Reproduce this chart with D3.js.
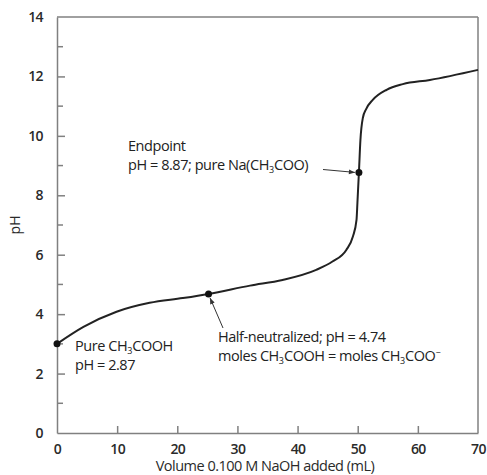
<!DOCTYPE html>
<html><head><meta charset="utf-8">
<script src="https://cdn.jsdelivr.net/npm/d3@7"></script>
<style>
body{margin:0;background:#fff;}
text{font-family:"Open Sans",sans-serif;}
</style></head>
<body><svg id="c" width="487" height="475"></svg>
<script>
const volume = [0, 4.4, 9.9, 15.4, 20.9, 25.2, 32.1, 37.5, 43.1, 45.8, 48.1, 49.2, 49.8, 49.95, 50.2, 50.45, 50.85, 51.4, 52.5, 54.8, 57.5, 62.0, 70];
const pH     = [3.0, 3.57, 4.08, 4.38, 4.54, 4.68, 4.96, 5.15, 5.49, 5.77, 6.16, 6.61, 7.17, 7.74, 8.77, 9.86, 10.6, 10.9, 11.21, 11.55, 11.74, 11.88, 12.22];
const markV  = [0, 25.2, 50.2];
const markP  = [3.0, 4.68, 8.77];
const xTicks = [0, 10, 20, 30, 40, 50, 60, 70];
const yTicks = [0, 2, 4, 6, 8, 10, 12, 14];
const yMinor = [1, 3, 5, 7, 9, 11, 13];

const svg = d3.select("#c");
const L = 57, R = 478, T = 17, B = 433;
const x = d3.scaleLinear().domain([0, 70]).range([L, R]);
const y = d3.scaleLinear().domain([0, 14]).range([B, T]);
const axisCol = "#808080", txtCol = "#2a2a2a";

// frame top & right
svg.append("line").attr("x1", L).attr("x2", R).attr("y1", T).attr("y2", T).attr("stroke", axisCol).attr("stroke-width", 1.5);
svg.append("line").attr("x1", R).attr("x2", R).attr("y1", T).attr("y2", B).attr("stroke", axisCol).attr("stroke-width", 1.5);

// x axis
const gx = svg.append("g").attr("transform", `translate(0,${B})`)
  .call(d3.axisBottom(x).tickValues(xTicks).tickSizeInner(-7).tickSizeOuter(0).tickPadding(11));
gx.select(".domain").attr("stroke", axisCol).attr("stroke-width", 1.5);
gx.selectAll(".tick line").attr("stroke", axisCol).attr("stroke-width", 1.5)
  .filter(d => d === 0 || d === 70).remove();
gx.selectAll(".tick text").attr("fill", txtCol).attr("font-size", 14).attr("font-weight", 600)
  .attr("font-family", "Open Sans").attr("letter-spacing", -0.6);

// y axis
const gy = svg.append("g").attr("transform", `translate(${L},0)`)
  .call(d3.axisLeft(y).tickValues(yTicks).tickSizeInner(-8).tickSizeOuter(0).tickPadding(14));
gy.select(".domain").attr("stroke", axisCol).attr("stroke-width", 1.5);
gy.selectAll(".tick line").attr("stroke", axisCol).attr("stroke-width", 1.5)
  .filter(d => d === 0 || d === 14).remove();
gy.selectAll(".tick text").attr("fill", txtCol).attr("font-size", 14).attr("font-weight", 600)
  .attr("font-family", "Open Sans").attr("letter-spacing", -0.6);
gy.selectAll(".minor").data(yMinor).enter().append("line")
  .attr("x1", 0).attr("x2", 6).attr("y1", d => y(d)).attr("y2", d => y(d))
  .attr("stroke", axisCol).attr("stroke-width", 1.5);

// axis titles
svg.append("text").attr("x", 265).attr("y", 471).attr("text-anchor", "middle")
  .attr("font-size", 14.5).attr("fill", txtCol).attr("letter-spacing", -0.5)
  .text("Volume 0.100 M NaOH added (mL)");
svg.append("text").attr("transform", "translate(20,225) rotate(-90)").attr("text-anchor", "middle")
  .attr("font-size", 14).attr("fill", txtCol).text("pH");

// curve
const pts = volume.map((v, i) => [v, pH[i]]);
svg.append("path").datum(pts)
  .attr("d", d3.line().x(d => x(d[0])).y(d => y(d[1])).curve(d3.curveMonotoneX))
  .attr("fill", "none").attr("stroke", "#222").attr("stroke-width", 2);

// markers
svg.selectAll(".dot").data(markV).enter().append("circle")
  .attr("cx", d => x(d)).attr("cy", (d, i) => y(markP[i])).attr("r", 3.5).attr("fill", "#111");

// arrowhead
svg.append("defs").append("marker").attr("id", "ah").attr("viewBox", "0 0 10 10")
  .attr("refX", 10).attr("refY", 5).attr("markerWidth", 7).attr("markerHeight", 6)
  .attr("orient", "auto").attr("markerUnits", "userSpaceOnUse")
  .append("path").attr("d", "M0,1 L10,5 L0,9 Z").attr("fill", "#333");

function arrow(x1, y1, x2, y2) {
  svg.append("line").attr("x1", x1).attr("y1", y1).attr("x2", x2).attr("y2", y2)
    .attr("stroke", "#333").attr("stroke-width", 1).attr("marker-end", "url(#ah)");
}
arrow(323, 169.5, x(markV[2]) - 4, y(markP[2]));
arrow(223, 328, x(markV[1]) + 1.5, y(markP[1]) + 4);

// annotation text with subscripts
function label(xp, yp, parts) {
  const t = svg.append("text").attr("x", xp).attr("y", yp).attr("font-size", 14.5)
    .attr("fill", "#222").attr("letter-spacing", -0.45);
  let shift = 0;
  parts.forEach(p => {
    let txt, target;
    if (typeof p === "string") { txt = p; target = 0; }
    else if (p.sub) { txt = p.sub; target = 2.5; }
    else { txt = p.sup; target = -5; }
    const s = t.append("tspan").attr("dy", target - shift).text(txt);
    if (typeof p !== "string") s.attr("font-size", 9).attr("letter-spacing", 0);
    shift = target;
  });
}
label(75, 351, ["Pure CH", {sub: "3"}, "COOH"]);
label(75, 370, ["pH = 2.87"]);
label(128, 151, ["Endpoint"]);
label(128, 170, ["pH = 8.87; pure Na(CH", {sub: "3"}, "COO)"]);
label(218, 342, ["Half-neutralized; pH = 4.74"]);
label(218, 361, ["moles CH", {sub: "3"}, "COOH = moles CH", {sub: "3"}, "COO", {sup: "−"}]);
</script></body></html>
